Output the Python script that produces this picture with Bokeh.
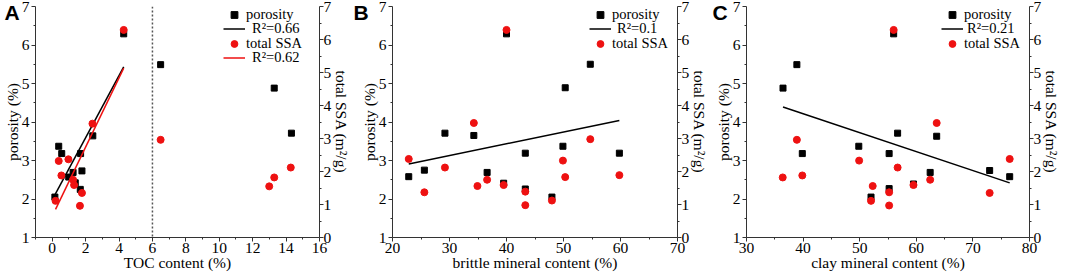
import numpy as np
from bokeh.plotting import figure
from bokeh.models import (Range1d, LinearAxis, Span, Label, Legend, LegendItem,
                          FixedTicker)
from bokeh.layouts import row
from bokeh.embed import file_html
from bokeh.resources import INLINE

# ---------------- data ----------------
# Panel A: TOC content (%)
toc_por_x = [0.16, 0.39, 0.57, 0.99, 1.25, 1.38, 1.68, 1.70, 1.78, 2.43, 4.28, 6.49, 13.29, 14.32]
toc_por_y = [2.05, 3.37, 3.18, 2.57, 2.69, 2.42, 2.25, 3.18, 2.73, 3.64, 6.29, 5.49, 4.88, 3.71]
toc_ssa_x = [0.20, 0.39, 0.55, 0.97, 1.25, 1.31, 1.78, 1.66, 2.41, 4.28, 6.49, 12.99, 13.29, 14.28]
toc_ssa_y = [1.11, 2.32, 1.88, 2.37, 1.75, 1.59, 1.35, 0.96, 3.45, 6.29, 2.96, 1.55, 1.82, 2.12]
toc_cutoff = 6
# fits: (slope, intercept, x_start, x_end)
fit_toc_por = (0.806, 1.98, 0.16, 4.28)
fit_toc_ssa = (1.05, 0.64, 0.20, 4.28)

# Panel B: brittle mineral content (%)
brit_por_x = [22.85, 25.59, 29.2, 34.27, 36.6, 39.5, 40.0, 43.3, 43.3, 47.97, 49.9, 50.3, 54.7, 59.8]
brit_por_y = [2.58, 2.75, 3.71, 3.65, 2.69, 2.41, 6.29, 3.19, 2.26, 2.05, 3.37, 4.89, 5.50, 3.19]
brit_ssa_x = [22.85, 25.59, 29.2, 34.27, 34.9, 36.6, 39.5, 40.0, 43.3, 43.3, 47.97, 49.9, 50.3, 54.7, 59.8]
brit_ssa_y = [2.38, 1.37, 2.12, 3.47, 1.56, 1.75, 1.59, 6.29, 1.39, 0.98, 1.12, 2.33, 1.83, 2.98, 1.89]
fit_brit_por = (0.0306, 2.211, 22.85, 59.8)

# Panel C: clay mineral content (%)
clay_por_x = [36.45, 38.9, 39.86, 49.84, 52.0, 55.2, 55.2, 56.0, 56.7, 59.5, 62.45, 63.6, 72.96, 76.5]
clay_por_y = [4.88, 5.49, 3.18, 3.37, 2.05, 3.18, 2.27, 6.29, 3.71, 2.39, 2.69, 3.63, 2.74, 2.58]
clay_ssa_x = [36.4, 38.9, 39.86, 49.9, 52.0, 52.3, 55.2, 55.2, 56.0, 56.7, 59.5, 62.45, 63.6, 72.96, 76.5]
clay_ssa_y = [1.82, 2.96, 1.88, 2.33, 1.11, 1.56, 1.37, 0.97, 6.29, 2.12, 1.59, 1.75, 3.47, 1.35, 2.38]
fit_clay_por = (-0.0492, 6.183, 36.45, 76.5)

r2_labels_a = ["R\u00b2=0.66", "R\u00b2=0.62"]
r2_label_b = "R\u00b2=0.1"
r2_label_c = "R\u00b2=0.21"

# ---------------- style ----------------
SERIF = "'Liberation Serif', 'Times New Roman', serif"
RED = "#ee1111"
AX = "#333333"
TICK_FS = "15.5px"
LAB_FS = "15.5px"
TOP = 30          # canvas space above the frame (partly hidden by the row's negative margin)
HIDE = 24         # how much of the canvas top is pulled above the page
BOTTOM = 38
FRAME_H = 231
CANVAS_H = TOP + FRAME_H + BOTTOM


def fit_xy(fit):
    s, b, x0, x1 = fit
    xs = np.array([x0, x1])
    return xs, s * xs + b


def style_axis(ax, label):
    ax.axis_label = label
    ax.axis_label_text_font = SERIF
    ax.axis_label_text_font_size = LAB_FS
    ax.axis_label_text_font_style = "normal"
    ax.axis_label_text_color = "black"
    ax.axis_label_standoff = -2
    ax.major_label_text_font = SERIF
    ax.major_label_text_font_size = TICK_FS
    ax.major_label_text_color = "black"
    ax.major_label_standoff = 2
    ax.axis_line_color = AX
    ax.major_tick_line_color = AX
    ax.minor_tick_line_color = AX
    ax.major_tick_in = 0
    ax.major_tick_out = 4
    ax.minor_tick_in = 0
    ax.minor_tick_out = 2


def make_panel(width, bl, br, xr, xmaj, xmin, xlabel, letter, letter_dx):
    p = figure(width=width, height=CANVAS_H, output_backend="svg", toolbar_location=None,
               x_range=Range1d(*xr), y_range=Range1d(1, 7),
               min_border_left=bl, min_border_right=br,
               min_border_top=TOP, min_border_bottom=BOTTOM)
    p.outline_line_color = None
    p.grid.visible = False
    p.extra_y_ranges = {"ssa": Range1d(0, 7)}
    p.xaxis.ticker = FixedTicker(ticks=xmaj, minor_ticks=xmin)
    p.yaxis.ticker = FixedTicker(ticks=[1, 2, 3, 4, 5, 6, 7],
                                 minor_ticks=[1.5, 2.5, 3.5, 4.5, 5.5, 6.5])
    style_axis(p.xaxis[0], xlabel)
    style_axis(p.yaxis[0], "porosity (%)")
    p.xaxis[0].axis_label_standoff = -2
    p.xaxis[0].major_label_standoff = 1
    ra = LinearAxis(y_range_name="ssa",
                    ticker=FixedTicker(ticks=[0, 1, 2, 3, 4, 5, 6, 7],
                                       minor_ticks=[0.5, 1.5, 2.5, 3.5, 4.5, 5.5, 6.5]))
    style_axis(ra, "total SSA (m\u00b2/g)")
    ra.major_label_standoff = 0
    ra.axis_label_standoff = -1
    p.add_layout(ra, "right")
    lab = Label(x=letter_dx, y=-5.5, x_units="screen", y_units="screen", text=letter,
                text_font="Liberation Sans", text_font_style="bold",
                text_font_size="21px", text_baseline="middle", text_align="left",
                text_color="black")
    p.add_layout(lab, "above")
    return p


def add_legend(p, entries, left):
    # one compact Legend per entry so the rows sit as close as in the original
    for i, (item, standoff) in enumerate(entries):
        center = 14.5 + 14.4 * i
        lg = Legend(items=[item], location=(left, FRAME_H + 6 - center - 8.5))
        lg.label_text_font = SERIF
        lg.label_text_font_size = "14.5px"
        lg.label_text_color = "black"
        lg.border_line_alpha = 0
        lg.background_fill_alpha = 0
        lg.spacing = 0
        lg.padding = 0
        lg.margin = 0
        lg.label_height = 17
        lg.glyph_height = 17
        lg.glyph_width = 22
        lg.label_standoff = standoff
        p.add_layout(lg)


# ---- Panel A ----
pA = make_panel(353, 34, 33, (-1, 16), list(range(0, 17, 2)), list(range(-1, 17, 2)),
                "TOC content (%)", "A", -31)
pA.add_layout(Span(location=toc_cutoff, dimension="height", line_color="#555555",
                   line_dash="2 2", line_width=1.5))
sqA = pA.scatter(toc_por_x, toc_por_y, marker="square", size=6, color="black")
fx, fy = fit_xy(fit_toc_por)
lnA = pA.line(fx, fy, line_color="black", line_width=1.5)
ciA = pA.scatter(toc_ssa_x, toc_ssa_y, marker="circle", size=7, color=RED, y_range_name="ssa")
fx, fy = fit_xy(fit_toc_ssa)
lnA2 = pA.line(fx, fy, line_color=RED, line_width=1.5, y_range_name="ssa")
add_legend(pA, [(LegendItem(label="porosity", renderers=[sqA]), 1),
                (LegendItem(label=r2_labels_a[0], renderers=[lnA]), 7),
                (LegendItem(label="total SSA", renderers=[ciA]), 1),
                (LegendItem(label=r2_labels_a[1], renderers=[lnA2]), 7)], 188)

# ---- Panel B ----
pB = make_panel(358, 39, 33, (20, 70), list(range(20, 71, 10)), list(range(25, 70, 10)),
                "brittle mineral content (%)", "B", -39)
sqB = pB.scatter(brit_por_x, brit_por_y, marker="square", size=6, color="black")
fx, fy = fit_xy(fit_brit_por)
lnB = pB.line(fx, fy, line_color="black", line_width=1.5)
ciB = pB.scatter(brit_ssa_x, brit_ssa_y, marker="circle", size=7, color=RED, y_range_name="ssa")
add_legend(pB, [(LegendItem(label="porosity", renderers=[sqB]), 1),
                (LegendItem(label=r2_label_b, renderers=[lnB]), 6),
                (LegendItem(label="total SSA", renderers=[ciB]), 1)], 197)

# ---- Panel C ----
pC = make_panel(354, 34, 36, (30, 80), list(range(30, 81, 10)), list(range(35, 80, 10)),
                "clay mineral content (%)", "C", -34)
sqC = pC.scatter(clay_por_x, clay_por_y, marker="square", size=6, color="black")
fx, fy = fit_xy(fit_clay_por)
lnC = pC.line(fx, fy, line_color="black", line_width=1.5)
ciC = pC.scatter(clay_ssa_x, clay_ssa_y, marker="circle", size=7, color=RED, y_range_name="ssa")
add_legend(pC, [(LegendItem(label="porosity", renderers=[sqC]), 1),
                (LegendItem(label=r2_label_c, renderers=[lnC]), 4),
                (LegendItem(label="total SSA", renderers=[ciC]), 1)], 195)

layout = row(pA, pB, pC, margin=(-HIDE, 0, 0, 0))

open("out.html", "w").write(file_html(layout, INLINE))
